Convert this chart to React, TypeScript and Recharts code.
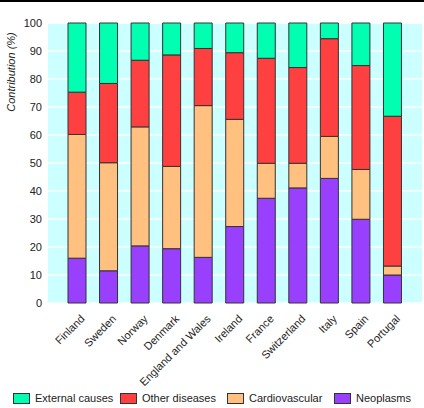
import React from "react";
import { BarChart, Bar, XAxis, YAxis, CartesianGrid, Legend } from "recharts";

const countries = ["Finland", "Sweden", "Norway", "Denmark", "England and Wales", "Ireland", "France", "Switzerland", "Italy", "Spain", "Portugal"];
const neoplasms = [16.0, 11.5, 20.4, 19.4, 16.3, 27.3, 37.4, 41.1, 44.5, 29.9, 10.0];
const cardiovascular = [44.2, 38.6, 42.5, 29.4, 54.2, 38.3, 12.5, 8.8, 15.0, 17.8, 3.2];
const otherDiseases = [15.1, 28.3, 23.8, 39.8, 20.4, 23.8, 37.5, 34.2, 34.9, 37.1, 53.5];
const externalCauses = [24.7, 21.6, 13.3, 11.4, 9.1, 10.6, 12.6, 15.9, 5.6, 15.2, 33.3];
const yTicks = [0, 10, 20, 30, 40, 50, 60, 70, 80, 90, 100];

const data = countries.map((c, i) => ({
  country: c,
  neoplasms: neoplasms[i],
  cardiovascular: cardiovascular[i],
  other: otherDiseases[i],
  external: externalCauses[i],
}));

const FONT = "'Liberation Sans', Arial, sans-serif";
const FS = 11;

const legendItems = [
  { label: "External causes", color: "#00ffb0" },
  { label: "Other diseases", color: "#ff4040" },
  { label: "Cardiovascular", color: "#ffc080" },
  { label: "Neoplasms", color: "#9940ff" },
];

const XTick = (props: any) => {
  const { x, y, payload } = props;
  const ax = x + 3;
  const ay = y + 3;
  return (
    <text
      x={ax}
      y={ay}
      transform={`rotate(-45, ${ax}, ${ay})`}
      textAnchor="end"
      fontSize={FS}
      fontFamily={FONT}
      fill="#222"
      dy="0.71em"
    >
      {payload.value}
    </text>
  );
};

const LegendContent = () => (
  <div style={{ position: "relative", height: 28, fontFamily: FONT, fontSize: FS, color: "#222" }}>
    {legendItems.map((it, i) => (
      <div key={it.label} style={{ position: "absolute", left: 13 + i * 107, top: 12, display: "flex", alignItems: "center", lineHeight: "12px" }}>
        <span style={{ display: "inline-block", width: 15, height: 9, background: it.color, border: "1px solid #333", marginRight: 5 }} />
        <span>{it.label}</span>
      </div>
    ))}
  </div>
);

export default function App() {
  return (
    <div style={{ position: "absolute", left: 0, top: 0, width: 424, height: 408, background: "#fff" }}>
      <div style={{ position: "absolute", left: 0, top: 0, width: 424, height: 2, background: "#000" }} />
      <BarChart width={424} height={408} data={data} margin={{ top: 23, right: 2, left: 0, bottom: 0 }} barSize={18}>
        <CartesianGrid vertical={false} stroke="#ffffff" strokeWidth={1.5} fill="#ccffff" />
        <XAxis
          dataKey="country"
          interval={0}
          tick={<XTick />}
          tickLine={false}
          axisLine={false}
          height={77}
          padding={{ left: 13, right: 14 }}
        />
        <YAxis
          domain={[0, 100]}
          ticks={yTicks}
          width={48}
          tickLine={false}
          axisLine={false}
          tickSize={0}
          tickMargin={6}
          tick={{ fontSize: FS, fontFamily: FONT, fill: "#222" }}
          label={{
            content: () => (
              <text
                x={15}
                y={72}
                transform="rotate(-90, 15, 72)"
                textAnchor="middle"
                fontSize={FS}
                fontStyle="italic"
                fontFamily={FONT}
                fill="#222"
              >
                Contribution (%)
              </text>
            ),
          }}
        />
        <Legend verticalAlign="bottom" height={28} content={<LegendContent />} />
        <Bar dataKey="neoplasms" stackId="a" fill="#9940ff" stroke="#333" strokeWidth={1} isAnimationActive={false} />
        <Bar dataKey="cardiovascular" stackId="a" fill="#ffc080" stroke="#333" strokeWidth={1} isAnimationActive={false} />
        <Bar dataKey="other" stackId="a" fill="#ff4040" stroke="#333" strokeWidth={1} isAnimationActive={false} />
        <Bar dataKey="external" stackId="a" fill="#00ffb0" stroke="#333" strokeWidth={1} isAnimationActive={false} />
      </BarChart>
    </div>
  );
}
